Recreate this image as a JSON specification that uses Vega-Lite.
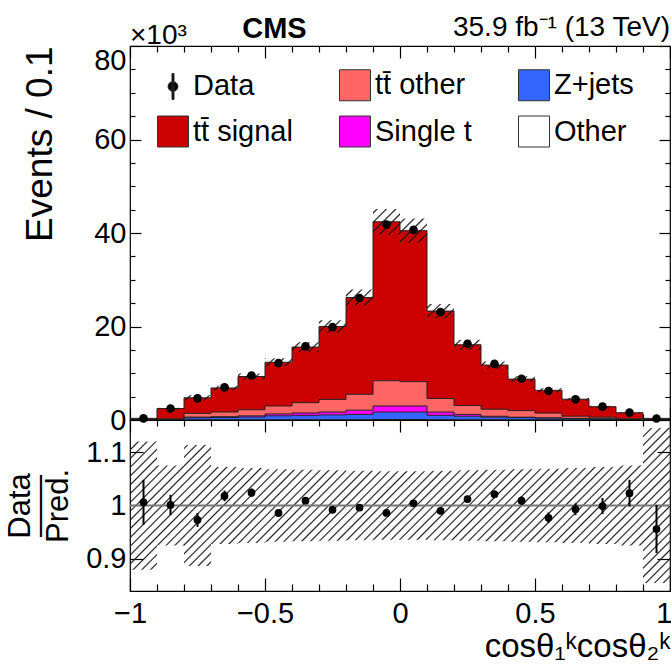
{
  "$schema": "https://vega.github.io/schema/vega-lite/v6.json",
  "background": "white",
  "padding": {"left": 4, "top": 13, "right": 0, "bottom": 0},
  "spacing": 0,
  "bounds": "flush",
  "config": {
    "font": "Liberation Sans",
    "view": {"stroke": "#000", "strokeWidth": 1.2},
    "axis": {"domainColor": "#000", "tickColor": "#000", "tickWidth": 1.2, "labelColor": "#000", "titleColor": "#000", "labelFont": "Liberation Sans", "titleFont": "Liberation Sans", "titleFontWeight": "normal", "grid": false, "labelFontSize": 29, "labelOverlap": false, "domain": false}
  },
  "datasets": {
    "mc": [
      {"lo": -1.0, "hi": -0.9, "Other": 0.00, "Z+jets": 0.02, "Single t": 0.01, "tt\u0304 other": 0.03, "tt\u0304 signal": 0.30},
      {"lo": -0.9, "hi": -0.8, "Other": 0.01, "Z+jets": 0.08, "Single t": 0.03, "tt\u0304 other": 0.12, "tt\u0304 signal": 2.21},
      {"lo": -0.8, "hi": -0.7, "Other": 0.02, "Z+jets": 0.45, "Single t": 0.15, "tt\u0304 other": 0.80, "tt\u0304 signal": 3.33},
      {"lo": -0.7, "hi": -0.6, "Other": 0.03, "Z+jets": 0.50, "Single t": 0.18, "tt\u0304 other": 1.00, "tt\u0304 signal": 5.14},
      {"lo": -0.6, "hi": -0.5, "Other": 0.04, "Z+jets": 0.60, "Single t": 0.25, "tt\u0304 other": 1.30, "tt\u0304 signal": 7.11},
      {"lo": -0.5, "hi": -0.4, "Other": 0.05, "Z+jets": 0.85, "Single t": 0.40, "tt\u0304 other": 1.70, "tt\u0304 signal": 9.35},
      {"lo": -0.4, "hi": -0.3, "Other": 0.05, "Z+jets": 0.95, "Single t": 0.50, "tt\u0304 other": 2.20, "tt\u0304 signal": 11.90},
      {"lo": -0.3, "hi": -0.2, "Other": 0.06, "Z+jets": 1.04, "Single t": 0.60, "tt\u0304 other": 2.70, "tt\u0304 signal": 15.60},
      {"lo": -0.2, "hi": -0.1, "Other": 0.07, "Z+jets": 1.13, "Single t": 0.90, "tt\u0304 other": 3.40, "tt\u0304 signal": 20.70},
      {"lo": -0.1, "hi": 0.0, "Other": 0.10, "Z+jets": 1.60, "Single t": 1.30, "tt\u0304 other": 5.40, "tt\u0304 signal": 34.00},
      {"lo": 0.0, "hi": 0.1, "Other": 0.10, "Z+jets": 1.60, "Single t": 1.30, "tt\u0304 other": 5.20, "tt\u0304 signal": 32.30},
      {"lo": 0.1, "hi": 0.2, "Other": 0.06, "Z+jets": 0.94, "Single t": 0.70, "tt\u0304 other": 2.90, "tt\u0304 signal": 18.70},
      {"lo": 0.2, "hi": 0.3, "Other": 0.05, "Z+jets": 0.75, "Single t": 0.40, "tt\u0304 other": 1.90, "tt\u0304 signal": 13.00},
      {"lo": 0.3, "hi": 0.4, "Other": 0.04, "Z+jets": 0.56, "Single t": 0.20, "tt\u0304 other": 1.50, "tt\u0304 signal": 9.45},
      {"lo": 0.4, "hi": 0.5, "Other": 0.03, "Z+jets": 0.47, "Single t": 0.10, "tt\u0304 other": 1.40, "tt\u0304 signal": 6.75},
      {"lo": 0.5, "hi": 0.6, "Other": 0.03, "Z+jets": 0.37, "Single t": 0.08, "tt\u0304 other": 1.00, "tt\u0304 signal": 4.87},
      {"lo": 0.6, "hi": 0.7, "Other": 0.02, "Z+jets": 0.28, "Single t": 0.06, "tt\u0304 other": 0.45, "tt\u0304 signal": 3.64},
      {"lo": 0.7, "hi": 0.8, "Other": 0.02, "Z+jets": 0.20, "Single t": 0.05, "tt\u0304 other": 0.33, "tt\u0304 signal": 2.25},
      {"lo": 0.8, "hi": 0.9, "Other": 0.01, "Z+jets": 0.08, "Single t": 0.02, "tt\u0304 other": 0.14, "tt\u0304 signal": 1.30},
      {"lo": 0.9, "hi": 1.0, "Other": 0.00, "Z+jets": 0.01, "Single t": 0.00, "tt\u0304 other": 0.02, "tt\u0304 signal": 0.32}
    ],
    "dat": [
      {"lo": -1.0, "hi": -0.9, "n": 0.36, "ratio": 1.006, "err": 0.042, "elo": 0.317, "ehi": 0.403, "blo": 0.88, "bhi": 1.12},
      {"lo": -0.9, "hi": -0.8, "n": 2.45, "ratio": 1.001, "err": 0.019, "elo": 2.266, "ehi": 2.634, "blo": 0.925, "bhi": 1.075},
      {"lo": -0.8, "hi": -0.7, "n": 4.62, "ratio": 0.973, "err": 0.013, "elo": 4.213, "ehi": 5.287, "blo": 0.887, "bhi": 1.113},
      {"lo": -0.7, "hi": -0.6, "n": 6.97, "ratio": 1.018, "err": 0.010, "elo": 6.357, "ehi": 7.343, "blo": 0.928, "bhi": 1.072},
      {"lo": -0.6, "hi": -0.5, "n": 9.52, "ratio": 1.024, "err": 0.008, "elo": 8.649, "ehi": 9.951, "blo": 0.93, "bhi": 1.07},
      {"lo": -0.5, "hi": -0.4, "n": 12.18, "ratio": 0.986, "err": 0.007, "elo": 11.51, "ehi": 13.19, "blo": 0.932, "bhi": 1.068},
      {"lo": -0.4, "hi": -0.3, "n": 15.74, "ratio": 1.009, "err": 0.006, "elo": 14.555, "ehi": 16.645, "blo": 0.933, "bhi": 1.067},
      {"lo": -0.3, "hi": -0.2, "n": 19.85, "ratio": 0.992, "err": 0.006, "elo": 18.68, "ehi": 21.32, "blo": 0.934, "bhi": 1.066},
      {"lo": -0.2, "hi": -0.1, "n": 26.1, "ratio": 0.996, "err": 0.005, "elo": 24.497, "ehi": 27.903, "blo": 0.935, "bhi": 1.065},
      {"lo": -0.1, "hi": 0.0, "n": 41.8, "ratio": 0.986, "err": 0.004, "elo": 39.686, "ehi": 45.114, "blo": 0.936, "bhi": 1.064},
      {"lo": 0.0, "hi": 0.1, "n": 40.66, "ratio": 1.004, "err": 0.004, "elo": 37.908, "ehi": 43.092, "blo": 0.936, "bhi": 1.064},
      {"lo": 0.1, "hi": 0.2, "n": 23.07, "ratio": 0.990, "err": 0.005, "elo": 21.786, "ehi": 24.815, "blo": 0.935, "bhi": 1.065},
      {"lo": 0.2, "hi": 0.3, "n": 16.3, "ratio": 1.012, "err": 0.006, "elo": 15.037, "ehi": 17.163, "blo": 0.934, "bhi": 1.066},
      {"lo": 0.3, "hi": 0.4, "n": 12.0, "ratio": 1.021, "err": 0.007, "elo": 10.963, "ehi": 12.537, "blo": 0.933, "bhi": 1.067},
      {"lo": 0.4, "hi": 0.5, "n": 8.83, "ratio": 1.009, "err": 0.008, "elo": 8.155, "ehi": 9.345, "blo": 0.932, "bhi": 1.068},
      {"lo": 0.5, "hi": 0.6, "n": 6.20, "ratio": 0.977, "err": 0.010, "elo": 5.912, "ehi": 6.788, "blo": 0.931, "bhi": 1.069},
      {"lo": 0.6, "hi": 0.7, "n": 4.42, "ratio": 0.993, "err": 0.011, "elo": 4.139, "ehi": 4.762, "blo": 0.93, "bhi": 1.07},
      {"lo": 0.7, "hi": 0.8, "n": 2.85, "ratio": 0.999, "err": 0.015, "elo": 2.645, "ehi": 3.055, "blo": 0.928, "bhi": 1.072},
      {"lo": 0.8, "hi": 0.9, "n": 1.59, "ratio": 1.023, "err": 0.025, "elo": 1.434, "ehi": 1.666, "blo": 0.925, "bhi": 1.075},
      {"lo": 0.9, "hi": 1.0, "n": 0.33, "ratio": 0.956, "err": 0.045, "elo": 0.299, "ehi": 0.401, "blo": 0.855, "bhi": 1.145}
    ]
  },
  "vconcat": [
    {
      "width": 540,
      "height": 374,
      "layer": [
        {
          "data": {"name": "mc"},
          "transform": [
            {"fold": ["Other", "Z+jets", "Single t", "tt\u0304 other", "tt\u0304 signal"], "as": ["process", "n"]},
            {"calculate": "indexof(['Other','Z+jets','Single t','tt\u0304 other','tt\u0304 signal'], datum.process)", "as": "ord"},
            {"stack": "n", "groupby": ["lo"], "sort": [{"field": "ord", "order": "ascending"}], "as": ["y0", "y1"]}
          ],
          "mark": {"type": "rect", "strokeWidth": 0},
          "encoding": {
            "x": {"field": "lo", "type": "quantitative", "scale": {"domain": [-1, 1], "nice": false, "zero": false},
              "axis": {"orient": "bottom", "values": [-1, -0.9, -0.8, -0.7, -0.6, -0.5, -0.4, -0.3, -0.2, -0.1, 0, 0.1, 0.2, 0.3, 0.4, 0.5, 0.6, 0.7, 0.8, 0.9, 1], "labels": false, "title": null,
                "tickSize": {"condition": {"test": "round(datum.value*10) % 5 === 0", "value": -12}, "value": -6}}},
            "x2": {"field": "hi"},
            "y": {"field": "y1", "type": "quantitative", "scale": {"domain": [0, 80], "nice": false},
              "axis": {"orient": "left", "values": [0, 5, 10, 15, 20, 25, 30, 35, 40, 45, 50, 55, 60, 65, 70, 75, 80], "format": "d",
                "labelExpr": "datum.value % 20 === 0 ? datum.label : ''", "labelPadding": 15,
                "labelBaseline": {"condition": {"test": "datum.value === 80", "value": "top"}, "value": "middle"},
                "tickSize": {"condition": {"test": "datum.value % 20 === 0", "value": -11}, "value": -5},
                "title": "Events / 0.1", "titleFontSize": 37, "titleAnchor": "end", "titlePadding": 34}},
            "y2": {"field": "y0"},
            "fill": {"field": "process", "type": "nominal",
              "scale": {"domain": ["Data", "tt\u0304 signal", "tt\u0304 other", "Single t", "Z+jets", "Other"], "range": ["#000000", "#cc0000", "#ff6666", "#ff00ff", "#3366ff", "#ffffff"]},
              "legend": {"title": null, "orient": "none", "legendX": 27, "legendY": 23, "columns": 3, "symbolSize": 961, "symbolOpacity": 1, "symbolStrokeColor": "#333", "symbolStrokeWidth": 1, "labelFontSize": 29, "labelFont": "Liberation Sans", "labelColor": "#000", "labelOffset": 4, "columnPadding": 44, "rowPadding": 10.5, "labelLimit": 0,
                "encode": {"symbols": {"update": {"stroke": {"value": "#333"}, "strokeWidth": {"value": 1}}}}}}
          }
        },
        {
          "data": {"name": "mc"},
          "transform": [
            {"fold": ["Other", "Z+jets", "Single t", "tt\u0304 other", "tt\u0304 signal"], "as": ["process", "n"]},
            {"calculate": "indexof(['Other','Z+jets','Single t','tt\u0304 other','tt\u0304 signal'], datum.process)", "as": "ord"},
            {"stack": "n", "groupby": ["lo"], "sort": [{"field": "ord", "order": "ascending"}], "as": ["y0", "y1"]},
            {"fold": ["lo", "hi"], "as": ["edge", "x"]}
          ],
          "mark": {"type": "line", "color": "#222", "strokeWidth": 1},
          "encoding": {
            "x": {"field": "x", "type": "quantitative", "axis": null},
            "y": {"field": "y1", "type": "quantitative", "axis": null},
            "detail": {"field": "process"},
            "order": [{"field": "x", "type": "quantitative"}, {"field": "edge", "type": "nominal"}]
          }
        },
        {
          "data": {"name": "dat"},
          "transform": [{"fold": ["lo", "hi"], "as": ["edge", "x"]}],
          "mark": {"type": "area", "fillOpacity": 1, "strokeWidth": 0,
            "fill": {"gradient": "linear", "x1": 0, "y1": 0, "x2": 1.2, "y2": 0.466, "stops": [
              {"offset": 0.004, "color": "#0000"}, {"offset": 0.00625, "color": "#222"}, {"offset": 0.0085, "color": "#0000"},
              {"offset": 0.0165, "color": "#0000"}, {"offset": 0.01875, "color": "#222"}, {"offset": 0.021, "color": "#0000"},
              {"offset": 0.029, "color": "#0000"}, {"offset": 0.03125, "color": "#222"}, {"offset": 0.0335, "color": "#0000"},
              {"offset": 0.0415, "color": "#0000"}, {"offset": 0.04375, "color": "#222"}, {"offset": 0.046, "color": "#0000"},
              {"offset": 0.054, "color": "#0000"}, {"offset": 0.05625, "color": "#222"}, {"offset": 0.0585, "color": "#0000"},
              {"offset": 0.0665, "color": "#0000"}, {"offset": 0.06875, "color": "#222"}, {"offset": 0.071, "color": "#0000"},
              {"offset": 0.079, "color": "#0000"}, {"offset": 0.08125, "color": "#222"}, {"offset": 0.0835, "color": "#0000"},
              {"offset": 0.0915, "color": "#0000"}, {"offset": 0.09375, "color": "#222"}, {"offset": 0.096, "color": "#0000"},
              {"offset": 0.104, "color": "#0000"}, {"offset": 0.10625, "color": "#222"}, {"offset": 0.1085, "color": "#0000"},
              {"offset": 0.1165, "color": "#0000"}, {"offset": 0.11875, "color": "#222"}, {"offset": 0.121, "color": "#0000"},
              {"offset": 0.129, "color": "#0000"}, {"offset": 0.13125, "color": "#222"}, {"offset": 0.1335, "color": "#0000"},
              {"offset": 0.1415, "color": "#0000"}, {"offset": 0.14375, "color": "#222"}, {"offset": 0.146, "color": "#0000"},
              {"offset": 0.154, "color": "#0000"}, {"offset": 0.15625, "color": "#222"}, {"offset": 0.1585, "color": "#0000"},
              {"offset": 0.1665, "color": "#0000"}, {"offset": 0.16875, "color": "#222"}, {"offset": 0.171, "color": "#0000"},
              {"offset": 0.179, "color": "#0000"}, {"offset": 0.18125, "color": "#222"}, {"offset": 0.1835, "color": "#0000"},
              {"offset": 0.1915, "color": "#0000"}, {"offset": 0.19375, "color": "#222"}, {"offset": 0.196, "color": "#0000"},
              {"offset": 0.204, "color": "#0000"}, {"offset": 0.20625, "color": "#222"}, {"offset": 0.2085, "color": "#0000"},
              {"offset": 0.2165, "color": "#0000"}, {"offset": 0.21875, "color": "#222"}, {"offset": 0.221, "color": "#0000"},
              {"offset": 0.229, "color": "#0000"}, {"offset": 0.23125, "color": "#222"}, {"offset": 0.2335, "color": "#0000"},
              {"offset": 0.2415, "color": "#0000"}, {"offset": 0.24375, "color": "#222"}, {"offset": 0.246, "color": "#0000"},
              {"offset": 0.254, "color": "#0000"}, {"offset": 0.25625, "color": "#222"}, {"offset": 0.2585, "color": "#0000"},
              {"offset": 0.2665, "color": "#0000"}, {"offset": 0.26875, "color": "#222"}, {"offset": 0.271, "color": "#0000"},
              {"offset": 0.279, "color": "#0000"}, {"offset": 0.28125, "color": "#222"}, {"offset": 0.2835, "color": "#0000"},
              {"offset": 0.2915, "color": "#0000"}, {"offset": 0.29375, "color": "#222"}, {"offset": 0.296, "color": "#0000"},
              {"offset": 0.304, "color": "#0000"}, {"offset": 0.30625, "color": "#222"}, {"offset": 0.3085, "color": "#0000"},
              {"offset": 0.3165, "color": "#0000"}, {"offset": 0.31875, "color": "#222"}, {"offset": 0.321, "color": "#0000"},
              {"offset": 0.329, "color": "#0000"}, {"offset": 0.33125, "color": "#222"}, {"offset": 0.3335, "color": "#0000"},
              {"offset": 0.3415, "color": "#0000"}, {"offset": 0.34375, "color": "#222"}, {"offset": 0.346, "color": "#0000"},
              {"offset": 0.354, "color": "#0000"}, {"offset": 0.35625, "color": "#222"}, {"offset": 0.3585, "color": "#0000"},
              {"offset": 0.3665, "color": "#0000"}, {"offset": 0.36875, "color": "#222"}, {"offset": 0.371, "color": "#0000"},
              {"offset": 0.379, "color": "#0000"}, {"offset": 0.38125, "color": "#222"}, {"offset": 0.3835, "color": "#0000"},
              {"offset": 0.3915, "color": "#0000"}, {"offset": 0.39375, "color": "#222"}, {"offset": 0.396, "color": "#0000"},
              {"offset": 0.404, "color": "#0000"}, {"offset": 0.40625, "color": "#222"}, {"offset": 0.4085, "color": "#0000"},
              {"offset": 0.4165, "color": "#0000"}, {"offset": 0.41875, "color": "#222"}, {"offset": 0.421, "color": "#0000"},
              {"offset": 0.429, "color": "#0000"}, {"offset": 0.43125, "color": "#222"}, {"offset": 0.4335, "color": "#0000"},
              {"offset": 0.4415, "color": "#0000"}, {"offset": 0.44375, "color": "#222"}, {"offset": 0.446, "color": "#0000"},
              {"offset": 0.454, "color": "#0000"}, {"offset": 0.45625, "color": "#222"}, {"offset": 0.4585, "color": "#0000"},
              {"offset": 0.4665, "color": "#0000"}, {"offset": 0.46875, "color": "#222"}, {"offset": 0.471, "color": "#0000"},
              {"offset": 0.479, "color": "#0000"}, {"offset": 0.48125, "color": "#222"}, {"offset": 0.4835, "color": "#0000"},
              {"offset": 0.4915, "color": "#0000"}, {"offset": 0.49375, "color": "#222"}, {"offset": 0.496, "color": "#0000"},
              {"offset": 0.504, "color": "#0000"}, {"offset": 0.50625, "color": "#222"}, {"offset": 0.5085, "color": "#0000"},
              {"offset": 0.5165, "color": "#0000"}, {"offset": 0.51875, "color": "#222"}, {"offset": 0.521, "color": "#0000"},
              {"offset": 0.529, "color": "#0000"}, {"offset": 0.53125, "color": "#222"}, {"offset": 0.5335, "color": "#0000"},
              {"offset": 0.5415, "color": "#0000"}, {"offset": 0.54375, "color": "#222"}, {"offset": 0.546, "color": "#0000"},
              {"offset": 0.554, "color": "#0000"}, {"offset": 0.55625, "color": "#222"}, {"offset": 0.5585, "color": "#0000"},
              {"offset": 0.5665, "color": "#0000"}, {"offset": 0.56875, "color": "#222"}, {"offset": 0.571, "color": "#0000"},
              {"offset": 0.579, "color": "#0000"}, {"offset": 0.58125, "color": "#222"}, {"offset": 0.5835, "color": "#0000"},
              {"offset": 0.5915, "color": "#0000"}, {"offset": 0.59375, "color": "#222"}, {"offset": 0.596, "color": "#0000"},
              {"offset": 0.604, "color": "#0000"}, {"offset": 0.60625, "color": "#222"}, {"offset": 0.6085, "color": "#0000"},
              {"offset": 0.6165, "color": "#0000"}, {"offset": 0.61875, "color": "#222"}, {"offset": 0.621, "color": "#0000"},
              {"offset": 0.629, "color": "#0000"}, {"offset": 0.63125, "color": "#222"}, {"offset": 0.6335, "color": "#0000"},
              {"offset": 0.6415, "color": "#0000"}, {"offset": 0.64375, "color": "#222"}, {"offset": 0.646, "color": "#0000"},
              {"offset": 0.654, "color": "#0000"}, {"offset": 0.65625, "color": "#222"}, {"offset": 0.6585, "color": "#0000"},
              {"offset": 0.6665, "color": "#0000"}, {"offset": 0.66875, "color": "#222"}, {"offset": 0.671, "color": "#0000"},
              {"offset": 0.679, "color": "#0000"}, {"offset": 0.68125, "color": "#222"}, {"offset": 0.6835, "color": "#0000"},
              {"offset": 0.6915, "color": "#0000"}, {"offset": 0.69375, "color": "#222"}, {"offset": 0.696, "color": "#0000"},
              {"offset": 0.704, "color": "#0000"}, {"offset": 0.70625, "color": "#222"}, {"offset": 0.7085, "color": "#0000"},
              {"offset": 0.7165, "color": "#0000"}, {"offset": 0.71875, "color": "#222"}, {"offset": 0.721, "color": "#0000"},
              {"offset": 0.729, "color": "#0000"}, {"offset": 0.73125, "color": "#222"}, {"offset": 0.7335, "color": "#0000"},
              {"offset": 0.7415, "color": "#0000"}, {"offset": 0.74375, "color": "#222"}, {"offset": 0.746, "color": "#0000"},
              {"offset": 0.754, "color": "#0000"}, {"offset": 0.75625, "color": "#222"}, {"offset": 0.7585, "color": "#0000"},
              {"offset": 0.7665, "color": "#0000"}, {"offset": 0.76875, "color": "#222"}, {"offset": 0.771, "color": "#0000"},
              {"offset": 0.779, "color": "#0000"}, {"offset": 0.78125, "color": "#222"}, {"offset": 0.7835, "color": "#0000"},
              {"offset": 0.7915, "color": "#0000"}, {"offset": 0.79375, "color": "#222"}, {"offset": 0.796, "color": "#0000"},
              {"offset": 0.804, "color": "#0000"}, {"offset": 0.80625, "color": "#222"}, {"offset": 0.8085, "color": "#0000"},
              {"offset": 0.8165, "color": "#0000"}, {"offset": 0.81875, "color": "#222"}, {"offset": 0.821, "color": "#0000"},
              {"offset": 0.829, "color": "#0000"}, {"offset": 0.83125, "color": "#222"}, {"offset": 0.8335, "color": "#0000"},
              {"offset": 0.8415, "color": "#0000"}, {"offset": 0.84375, "color": "#222"}, {"offset": 0.846, "color": "#0000"},
              {"offset": 0.854, "color": "#0000"}, {"offset": 0.85625, "color": "#222"}, {"offset": 0.8585, "color": "#0000"},
              {"offset": 0.8665, "color": "#0000"}, {"offset": 0.86875, "color": "#222"}, {"offset": 0.871, "color": "#0000"},
              {"offset": 0.879, "color": "#0000"}, {"offset": 0.88125, "color": "#222"}, {"offset": 0.8835, "color": "#0000"},
              {"offset": 0.8915, "color": "#0000"}, {"offset": 0.89375, "color": "#222"}, {"offset": 0.896, "color": "#0000"},
              {"offset": 0.904, "color": "#0000"}, {"offset": 0.90625, "color": "#222"}, {"offset": 0.9085, "color": "#0000"},
              {"offset": 0.9165, "color": "#0000"}, {"offset": 0.91875, "color": "#222"}, {"offset": 0.921, "color": "#0000"},
              {"offset": 0.929, "color": "#0000"}, {"offset": 0.93125, "color": "#222"}, {"offset": 0.9335, "color": "#0000"},
              {"offset": 0.9415, "color": "#0000"}, {"offset": 0.94375, "color": "#222"}, {"offset": 0.946, "color": "#0000"},
              {"offset": 0.954, "color": "#0000"}, {"offset": 0.95625, "color": "#222"}, {"offset": 0.9585, "color": "#0000"},
              {"offset": 0.9665, "color": "#0000"}, {"offset": 0.96875, "color": "#222"}, {"offset": 0.971, "color": "#0000"},
              {"offset": 0.979, "color": "#0000"}, {"offset": 0.98125, "color": "#222"}, {"offset": 0.9835, "color": "#0000"},
              {"offset": 0.9915, "color": "#0000"}, {"offset": 0.99375, "color": "#222"}, {"offset": 0.996, "color": "#0000"}
            ]}},
          "encoding": {
            "x": {"field": "x", "type": "quantitative",
              "axis": {"orient": "top", "values": [-1, -0.9, -0.8, -0.7, -0.6, -0.5, -0.4, -0.3, -0.2, -0.1, 0, 0.1, 0.2, 0.3, 0.4, 0.5, 0.6, 0.7, 0.8, 0.9, 1], "labels": false, "title": null,
                "tickSize": {"condition": {"test": "round(datum.value*10) % 5 === 0", "value": -12}, "value": -6}}},
            "y": {"field": "elo", "type": "quantitative",
              "axis": {"orient": "right", "values": [0, 5, 10, 15, 20, 25, 30, 35, 40, 45, 50, 55, 60, 65, 70, 75, 80], "labels": false, "title": null,
                "tickSize": {"condition": {"test": "datum.value % 20 === 0", "value": -11}, "value": -5}}},
            "y2": {"field": "ehi"},
            "order": [{"field": "x", "type": "quantitative"}, {"field": "edge", "type": "nominal"}]
          }
        },
        {
          "data": {"name": "dat"},
          "transform": [{"calculate": "(datum.lo + datum.hi) / 2", "as": "mid"}],
          "mark": {"type": "point", "filled": true, "color": "#000", "size": 75, "opacity": 1},
          "encoding": {
            "x": {"field": "mid", "type": "quantitative", "axis": null},
            "y": {"field": "n", "type": "quantitative", "axis": null}
          }
        },
        {
          "data": {"name": "mc"},
          "transform": [
            {"fold": ["Other", "Z+jets", "Single t", "tt\u0304 other", "tt\u0304 signal"], "as": ["process", "n"]},
            {"filter": "false"}
          ],
          "mark": {"type": "point", "filled": true},
          "encoding": {
            "fill": {"field": "process", "type": "nominal",
              "scale": {"domain": ["Data", "tt\u0304 signal", "tt\u0304 other", "Single t", "Z+jets", "Other"], "range": ["#000000", "#cc0000", "#ff6666", "#ff00ff", "#3366ff", "#ffffff"]},
              "legend": {"title": null, "orient": "none", "legendX": 27, "legendY": 23, "columns": 3, "symbolSize": 961, "symbolOpacity": 1, "symbolStrokeColor": "#333", "symbolStrokeWidth": 1, "labelFontSize": 29, "labelFont": "Liberation Sans", "labelColor": "#000", "labelOffset": 4, "columnPadding": 44, "rowPadding": 10.5, "labelLimit": 0,
                "encode": {"symbols": {"update": {"stroke": {"value": "#333"}, "strokeWidth": {"value": 1}}}}}},
            "shape": {"field": "process", "type": "nominal",
              "scale": {"domain": ["Data", "tt\u0304 signal", "tt\u0304 other", "Single t", "Z+jets", "Other"], "range": ["M-0.065,-0.84L0.065,-0.84L0.065,0.84L-0.065,0.84Z M-0.32,0A0.32,0.32 0 1,1 0.32,0A0.32,0.32 0 1,1 -0.32,0Z", "square", "square", "square", "square", "square"]},
              "legend": {"title": null, "orient": "none", "legendX": 27, "legendY": 23, "columns": 3, "symbolSize": 961, "symbolOpacity": 1, "symbolStrokeColor": "#333", "symbolStrokeWidth": 1, "labelFontSize": 29, "labelFont": "Liberation Sans", "labelColor": "#000", "labelOffset": 4, "columnPadding": 44, "rowPadding": 10.5, "labelLimit": 0,
                "encode": {"symbols": {"update": {"stroke": {"value": "#333"}, "strokeWidth": {"value": 1}}}}}}
          }
        },
        {
          "data": {"values": [{}]},
          "mark": {"type": "text", "text": "CMS", "font": "Liberation Sans", "fontWeight": "bold", "fontSize": 29, "align": "center", "baseline": "alphabetic", "dy": -8, "color": "#000"},
          "encoding": {"x": {"datum": -0.465, "type": "quantitative", "axis": null}, "y": {"datum": 80, "type": "quantitative", "axis": null}}
        },
        {
          "data": {"values": [{}]},
          "mark": {"type": "text", "text": "35.9 fb\u207b\u00b9 (13 TeV)", "font": "Liberation Sans", "fontSize": 28, "align": "right", "baseline": "alphabetic", "dy": -10, "color": "#000"},
          "encoding": {"x": {"datum": 1, "type": "quantitative", "axis": null}, "y": {"datum": 80, "type": "quantitative", "axis": null}}
        },
        {
          "data": {"values": [{}]},
          "mark": {"type": "text", "text": "\u00d710\u00b3", "font": "Liberation Sans", "fontSize": 28, "align": "left", "baseline": "alphabetic", "dy": -2, "color": "#000"},
          "encoding": {"x": {"datum": -1, "type": "quantitative", "axis": null}, "y": {"datum": 80, "type": "quantitative", "axis": null}}
        }
      ],
      "resolve": {"axis": {"x": "independent", "y": "independent"}}
    },
    {
      "width": 540,
      "height": 171,
      "layer": [
        {
          "data": {"name": "dat"},
          "transform": [{"fold": ["lo", "hi"], "as": ["edge", "x"]}],
          "mark": {"type": "area", "fillOpacity": 1, "strokeWidth": 0,
            "fill": {"gradient": "linear", "x1": 0, "y1": 0, "x2": 1.2, "y2": 0.344, "stops": [
              {"offset": 0.004, "color": "#0000"}, {"offset": 0.00625, "color": "#222"}, {"offset": 0.0085, "color": "#0000"},
              {"offset": 0.0165, "color": "#0000"}, {"offset": 0.01875, "color": "#222"}, {"offset": 0.021, "color": "#0000"},
              {"offset": 0.029, "color": "#0000"}, {"offset": 0.03125, "color": "#222"}, {"offset": 0.0335, "color": "#0000"},
              {"offset": 0.0415, "color": "#0000"}, {"offset": 0.04375, "color": "#222"}, {"offset": 0.046, "color": "#0000"},
              {"offset": 0.054, "color": "#0000"}, {"offset": 0.05625, "color": "#222"}, {"offset": 0.0585, "color": "#0000"},
              {"offset": 0.0665, "color": "#0000"}, {"offset": 0.06875, "color": "#222"}, {"offset": 0.071, "color": "#0000"},
              {"offset": 0.079, "color": "#0000"}, {"offset": 0.08125, "color": "#222"}, {"offset": 0.0835, "color": "#0000"},
              {"offset": 0.0915, "color": "#0000"}, {"offset": 0.09375, "color": "#222"}, {"offset": 0.096, "color": "#0000"},
              {"offset": 0.104, "color": "#0000"}, {"offset": 0.10625, "color": "#222"}, {"offset": 0.1085, "color": "#0000"},
              {"offset": 0.1165, "color": "#0000"}, {"offset": 0.11875, "color": "#222"}, {"offset": 0.121, "color": "#0000"},
              {"offset": 0.129, "color": "#0000"}, {"offset": 0.13125, "color": "#222"}, {"offset": 0.1335, "color": "#0000"},
              {"offset": 0.1415, "color": "#0000"}, {"offset": 0.14375, "color": "#222"}, {"offset": 0.146, "color": "#0000"},
              {"offset": 0.154, "color": "#0000"}, {"offset": 0.15625, "color": "#222"}, {"offset": 0.1585, "color": "#0000"},
              {"offset": 0.1665, "color": "#0000"}, {"offset": 0.16875, "color": "#222"}, {"offset": 0.171, "color": "#0000"},
              {"offset": 0.179, "color": "#0000"}, {"offset": 0.18125, "color": "#222"}, {"offset": 0.1835, "color": "#0000"},
              {"offset": 0.1915, "color": "#0000"}, {"offset": 0.19375, "color": "#222"}, {"offset": 0.196, "color": "#0000"},
              {"offset": 0.204, "color": "#0000"}, {"offset": 0.20625, "color": "#222"}, {"offset": 0.2085, "color": "#0000"},
              {"offset": 0.2165, "color": "#0000"}, {"offset": 0.21875, "color": "#222"}, {"offset": 0.221, "color": "#0000"},
              {"offset": 0.229, "color": "#0000"}, {"offset": 0.23125, "color": "#222"}, {"offset": 0.2335, "color": "#0000"},
              {"offset": 0.2415, "color": "#0000"}, {"offset": 0.24375, "color": "#222"}, {"offset": 0.246, "color": "#0000"},
              {"offset": 0.254, "color": "#0000"}, {"offset": 0.25625, "color": "#222"}, {"offset": 0.2585, "color": "#0000"},
              {"offset": 0.2665, "color": "#0000"}, {"offset": 0.26875, "color": "#222"}, {"offset": 0.271, "color": "#0000"},
              {"offset": 0.279, "color": "#0000"}, {"offset": 0.28125, "color": "#222"}, {"offset": 0.2835, "color": "#0000"},
              {"offset": 0.2915, "color": "#0000"}, {"offset": 0.29375, "color": "#222"}, {"offset": 0.296, "color": "#0000"},
              {"offset": 0.304, "color": "#0000"}, {"offset": 0.30625, "color": "#222"}, {"offset": 0.3085, "color": "#0000"},
              {"offset": 0.3165, "color": "#0000"}, {"offset": 0.31875, "color": "#222"}, {"offset": 0.321, "color": "#0000"},
              {"offset": 0.329, "color": "#0000"}, {"offset": 0.33125, "color": "#222"}, {"offset": 0.3335, "color": "#0000"},
              {"offset": 0.3415, "color": "#0000"}, {"offset": 0.34375, "color": "#222"}, {"offset": 0.346, "color": "#0000"},
              {"offset": 0.354, "color": "#0000"}, {"offset": 0.35625, "color": "#222"}, {"offset": 0.3585, "color": "#0000"},
              {"offset": 0.3665, "color": "#0000"}, {"offset": 0.36875, "color": "#222"}, {"offset": 0.371, "color": "#0000"},
              {"offset": 0.379, "color": "#0000"}, {"offset": 0.38125, "color": "#222"}, {"offset": 0.3835, "color": "#0000"},
              {"offset": 0.3915, "color": "#0000"}, {"offset": 0.39375, "color": "#222"}, {"offset": 0.396, "color": "#0000"},
              {"offset": 0.404, "color": "#0000"}, {"offset": 0.40625, "color": "#222"}, {"offset": 0.4085, "color": "#0000"},
              {"offset": 0.4165, "color": "#0000"}, {"offset": 0.41875, "color": "#222"}, {"offset": 0.421, "color": "#0000"},
              {"offset": 0.429, "color": "#0000"}, {"offset": 0.43125, "color": "#222"}, {"offset": 0.4335, "color": "#0000"},
              {"offset": 0.4415, "color": "#0000"}, {"offset": 0.44375, "color": "#222"}, {"offset": 0.446, "color": "#0000"},
              {"offset": 0.454, "color": "#0000"}, {"offset": 0.45625, "color": "#222"}, {"offset": 0.4585, "color": "#0000"},
              {"offset": 0.4665, "color": "#0000"}, {"offset": 0.46875, "color": "#222"}, {"offset": 0.471, "color": "#0000"},
              {"offset": 0.479, "color": "#0000"}, {"offset": 0.48125, "color": "#222"}, {"offset": 0.4835, "color": "#0000"},
              {"offset": 0.4915, "color": "#0000"}, {"offset": 0.49375, "color": "#222"}, {"offset": 0.496, "color": "#0000"},
              {"offset": 0.504, "color": "#0000"}, {"offset": 0.50625, "color": "#222"}, {"offset": 0.5085, "color": "#0000"},
              {"offset": 0.5165, "color": "#0000"}, {"offset": 0.51875, "color": "#222"}, {"offset": 0.521, "color": "#0000"},
              {"offset": 0.529, "color": "#0000"}, {"offset": 0.53125, "color": "#222"}, {"offset": 0.5335, "color": "#0000"},
              {"offset": 0.5415, "color": "#0000"}, {"offset": 0.54375, "color": "#222"}, {"offset": 0.546, "color": "#0000"},
              {"offset": 0.554, "color": "#0000"}, {"offset": 0.55625, "color": "#222"}, {"offset": 0.5585, "color": "#0000"},
              {"offset": 0.5665, "color": "#0000"}, {"offset": 0.56875, "color": "#222"}, {"offset": 0.571, "color": "#0000"},
              {"offset": 0.579, "color": "#0000"}, {"offset": 0.58125, "color": "#222"}, {"offset": 0.5835, "color": "#0000"},
              {"offset": 0.5915, "color": "#0000"}, {"offset": 0.59375, "color": "#222"}, {"offset": 0.596, "color": "#0000"},
              {"offset": 0.604, "color": "#0000"}, {"offset": 0.60625, "color": "#222"}, {"offset": 0.6085, "color": "#0000"},
              {"offset": 0.6165, "color": "#0000"}, {"offset": 0.61875, "color": "#222"}, {"offset": 0.621, "color": "#0000"},
              {"offset": 0.629, "color": "#0000"}, {"offset": 0.63125, "color": "#222"}, {"offset": 0.6335, "color": "#0000"},
              {"offset": 0.6415, "color": "#0000"}, {"offset": 0.64375, "color": "#222"}, {"offset": 0.646, "color": "#0000"},
              {"offset": 0.654, "color": "#0000"}, {"offset": 0.65625, "color": "#222"}, {"offset": 0.6585, "color": "#0000"},
              {"offset": 0.6665, "color": "#0000"}, {"offset": 0.66875, "color": "#222"}, {"offset": 0.671, "color": "#0000"},
              {"offset": 0.679, "color": "#0000"}, {"offset": 0.68125, "color": "#222"}, {"offset": 0.6835, "color": "#0000"},
              {"offset": 0.6915, "color": "#0000"}, {"offset": 0.69375, "color": "#222"}, {"offset": 0.696, "color": "#0000"},
              {"offset": 0.704, "color": "#0000"}, {"offset": 0.70625, "color": "#222"}, {"offset": 0.7085, "color": "#0000"},
              {"offset": 0.7165, "color": "#0000"}, {"offset": 0.71875, "color": "#222"}, {"offset": 0.721, "color": "#0000"},
              {"offset": 0.729, "color": "#0000"}, {"offset": 0.73125, "color": "#222"}, {"offset": 0.7335, "color": "#0000"},
              {"offset": 0.7415, "color": "#0000"}, {"offset": 0.74375, "color": "#222"}, {"offset": 0.746, "color": "#0000"},
              {"offset": 0.754, "color": "#0000"}, {"offset": 0.75625, "color": "#222"}, {"offset": 0.7585, "color": "#0000"},
              {"offset": 0.7665, "color": "#0000"}, {"offset": 0.76875, "color": "#222"}, {"offset": 0.771, "color": "#0000"},
              {"offset": 0.779, "color": "#0000"}, {"offset": 0.78125, "color": "#222"}, {"offset": 0.7835, "color": "#0000"},
              {"offset": 0.7915, "color": "#0000"}, {"offset": 0.79375, "color": "#222"}, {"offset": 0.796, "color": "#0000"},
              {"offset": 0.804, "color": "#0000"}, {"offset": 0.80625, "color": "#222"}, {"offset": 0.8085, "color": "#0000"},
              {"offset": 0.8165, "color": "#0000"}, {"offset": 0.81875, "color": "#222"}, {"offset": 0.821, "color": "#0000"},
              {"offset": 0.829, "color": "#0000"}, {"offset": 0.83125, "color": "#222"}, {"offset": 0.8335, "color": "#0000"},
              {"offset": 0.8415, "color": "#0000"}, {"offset": 0.84375, "color": "#222"}, {"offset": 0.846, "color": "#0000"},
              {"offset": 0.854, "color": "#0000"}, {"offset": 0.85625, "color": "#222"}, {"offset": 0.8585, "color": "#0000"},
              {"offset": 0.8665, "color": "#0000"}, {"offset": 0.86875, "color": "#222"}, {"offset": 0.871, "color": "#0000"},
              {"offset": 0.879, "color": "#0000"}, {"offset": 0.88125, "color": "#222"}, {"offset": 0.8835, "color": "#0000"},
              {"offset": 0.8915, "color": "#0000"}, {"offset": 0.89375, "color": "#222"}, {"offset": 0.896, "color": "#0000"},
              {"offset": 0.904, "color": "#0000"}, {"offset": 0.90625, "color": "#222"}, {"offset": 0.9085, "color": "#0000"},
              {"offset": 0.9165, "color": "#0000"}, {"offset": 0.91875, "color": "#222"}, {"offset": 0.921, "color": "#0000"},
              {"offset": 0.929, "color": "#0000"}, {"offset": 0.93125, "color": "#222"}, {"offset": 0.9335, "color": "#0000"},
              {"offset": 0.9415, "color": "#0000"}, {"offset": 0.94375, "color": "#222"}, {"offset": 0.946, "color": "#0000"},
              {"offset": 0.954, "color": "#0000"}, {"offset": 0.95625, "color": "#222"}, {"offset": 0.9585, "color": "#0000"},
              {"offset": 0.9665, "color": "#0000"}, {"offset": 0.96875, "color": "#222"}, {"offset": 0.971, "color": "#0000"},
              {"offset": 0.979, "color": "#0000"}, {"offset": 0.98125, "color": "#222"}, {"offset": 0.9835, "color": "#0000"},
              {"offset": 0.9915, "color": "#0000"}, {"offset": 0.99375, "color": "#222"}, {"offset": 0.996, "color": "#0000"}
            ]}},
          "encoding": {
            "x": {"field": "x", "type": "quantitative", "scale": {"domain": [-1, 1], "nice": false, "zero": false},
              "axis": {"orient": "bottom", "values": [-1, -0.9, -0.8, -0.7, -0.6, -0.5, -0.4, -0.3, -0.2, -0.1, 0, 0.1, 0.2, 0.3, 0.4, 0.5, 0.6, 0.7, 0.8, 0.9, 1], "format": "~g",
                "labelExpr": "round(datum.value*10) % 5 === 0 ? datum.label : ''", "labelFlush": false, "labelPadding": 21,
                "labelAlign": {"condition": {"test": "datum.value === 1", "value": "right"}, "value": "center"},
                "labelOffset": {"condition": {"test": "datum.value === 1", "value": 2}, "value": 0},
                "tickSize": {"condition": {"test": "round(datum.value*10) % 5 === 0", "value": -13}, "value": -7},
                "title": "cos\u03b8\u2081\u1d4fcos\u03b8\u2082\u1d4f\u2009", "titleFontSize": 33, "titleAnchor": "end", "titlePadding": -4}},
            "y": {"field": "blo", "type": "quantitative", "scale": {"domain": [0.84, 1.16], "nice": false, "zero": false},
              "axis": {"orient": "left", "values": [0.9, 1, 1.1], "format": "~g", "labelPadding": 17, "tickSize": -13,
                "title": ["Data", "\u2014\u2014", "Pred."], "titleFontSize": 31, "titleLineHeight": 19, "titlePadding": 11}},
            "y2": {"field": "bhi"},
            "order": [{"field": "x", "type": "quantitative"}, {"field": "edge", "type": "nominal"}]
          }
        },
        {
          "data": {"values": [{}]},
          "mark": {"type": "rule", "color": "#777", "strokeWidth": 2},
          "encoding": {"y": {"datum": 1, "type": "quantitative", "axis": null}}
        },
        {
          "data": {"name": "dat"},
          "transform": [{"calculate": "(datum.lo + datum.hi) / 2", "as": "mid"}],
          "mark": {"type": "errorbar", "color": "#000", "thickness": 2},
          "encoding": {
            "x": {"field": "mid", "type": "quantitative", "axis": null},
            "y": {"field": "ratio", "type": "quantitative", "axis": null},
            "yError": {"field": "err"}
          }
        },
        {
          "data": {"name": "dat"},
          "transform": [{"calculate": "(datum.lo + datum.hi) / 2", "as": "mid"}],
          "mark": {"type": "point", "filled": true, "color": "#000", "size": 60, "opacity": 1},
          "encoding": {
            "x": {"field": "mid", "type": "quantitative",
              "axis": {"orient": "top", "values": [-1, -0.9, -0.8, -0.7, -0.6, -0.5, -0.4, -0.3, -0.2, -0.1, 0, 0.1, 0.2, 0.3, 0.4, 0.5, 0.6, 0.7, 0.8, 0.9, 1], "labels": false, "title": null,
                "tickSize": {"condition": {"test": "round(datum.value*10) % 5 === 0", "value": -12}, "value": -6}}},
            "y": {"field": "ratio", "type": "quantitative",
              "axis": {"orient": "right", "values": [0.9, 1, 1.1], "labels": false, "title": null, "tickSize": -13}}
          }
        }
      ],
      "resolve": {"axis": {"x": "independent", "y": "independent"}}
    }
  ]
}
